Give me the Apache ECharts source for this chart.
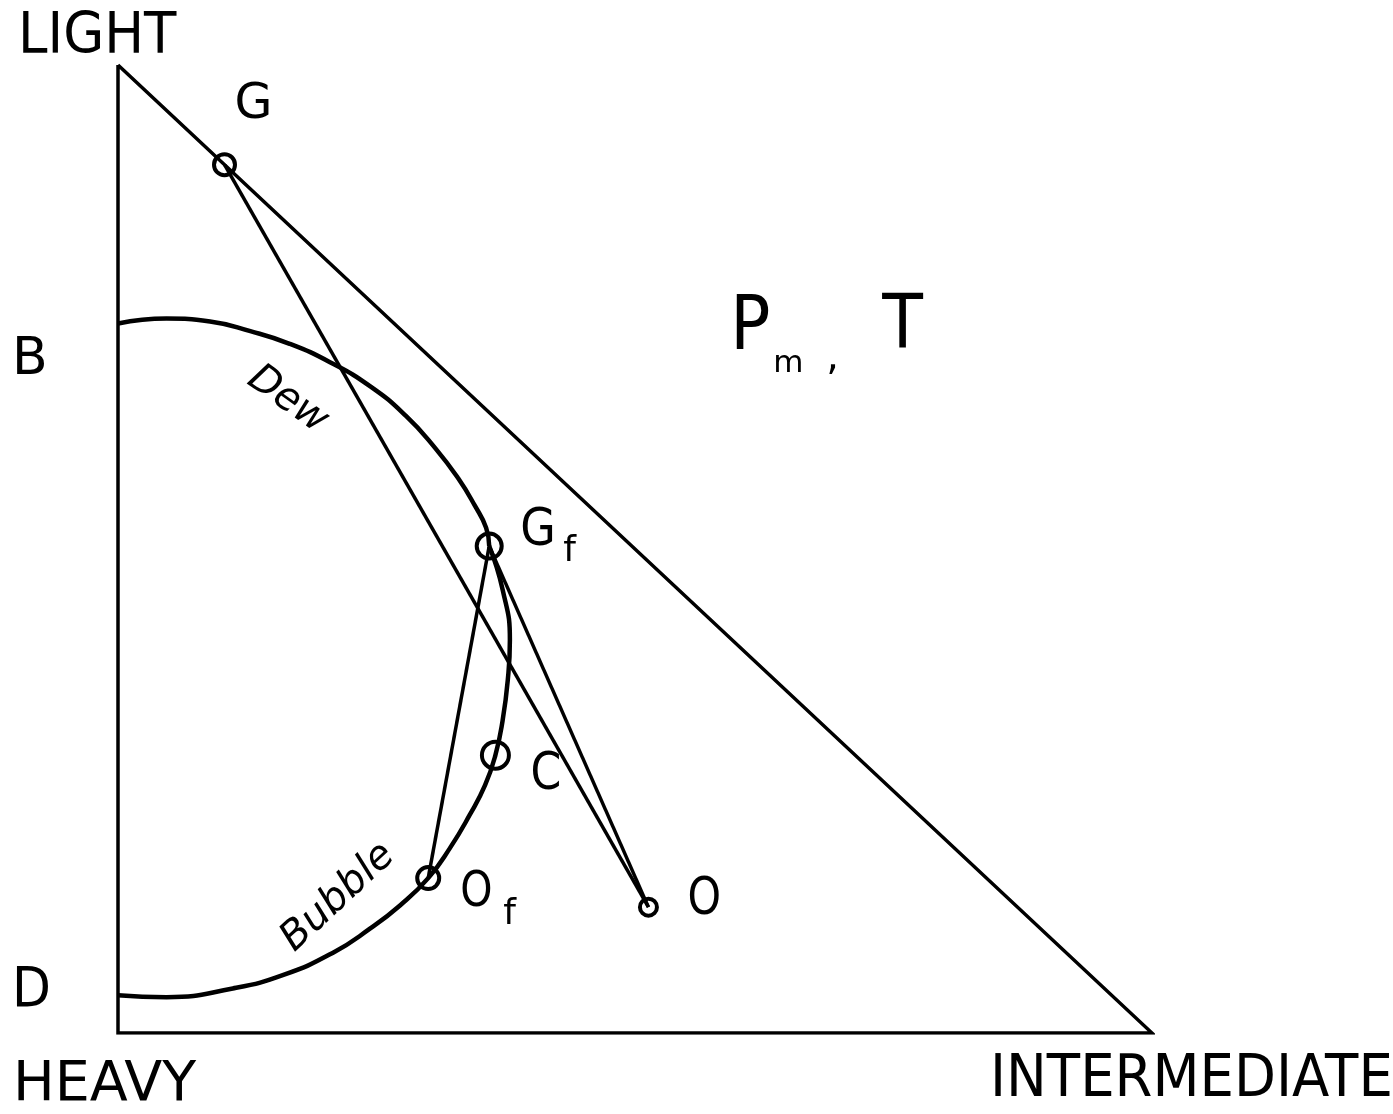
<!DOCTYPE html>
<html>
<head>
<meta charset="utf-8">
<script src="https://cdn.jsdelivr.net/npm/echarts@6/dist/echarts.min.js"></script>
<style>
  html, body { margin: 0; padding: 0; background: #fff; }
  #chart { width: 1393px; height: 1114px; }
</style>
</head>
<body>
<div id="chart"></div>
<script>
// Composition plane: x = intermediate fraction, y = light fraction (heavy at origin)
const triangleVertices = [[0, 1], [0, 0], [1, 0], [0, 1]];

// Dew-point branch of the phase envelope, from the heavy-light edge down to Gf
const dewX = [0.000, 0.047, 0.089, 0.128, 0.166, 0.205, 0.244, 0.278, 0.307, 0.329, 0.345, 0.356, 0.359];
const dewY = [0.733, 0.738, 0.735, 0.725, 0.712, 0.693, 0.668, 0.638, 0.604, 0.573, 0.545, 0.522, 0.503];

// Bubble-point branch, from Gf through C and Of back to the heavy-light edge
const bubbleX = [0.359, 0.372, 0.379, 0.377, 0.372, 0.365, 0.355, 0.340, 0.321, 0.300, 0.273, 0.244, 0.208, 0.160, 0.111, 0.047, 0.000];
const bubbleY = [0.503, 0.458, 0.406, 0.365, 0.323, 0.287, 0.256, 0.225, 0.191, 0.160, 0.132, 0.108, 0.083, 0.060, 0.046, 0.037, 0.039];

// Marked compositions
const pointNames = ['G', 'Gf', 'C', 'Of', 'O'];
const pointX = [0.103, 0.359, 0.365, 0.300, 0.513];
const pointY = [0.897, 0.503, 0.287, 0.160, 0.130];

// Straight connections between marked compositions
const tieLines = [['G', 'O'], ['Gf', 'Of'], ['Gf', 'O']];

const INK = '#000';
const FONT = '"DejaVu Sans", "Liberation Sans", sans-serif';

const pt = name => {
  const i = pointNames.indexOf(name);
  return [pointX[i], pointY[i]];
};
const zip = (xs, ys) => xs.map((x, i) => [x, ys[i]]);

const chart = echarts.init(document.getElementById('chart'), null, { renderer: 'canvas' });

const series = [
  {
    type: 'line', data: triangleVertices, symbol: 'none', silent: true,
    lineStyle: { color: INK, width: 3.5, join: 'miter' }, z: 2
  },
  {
    type: 'line', data: zip(dewX, dewY), symbol: 'none', smooth: 0.5, silent: true,
    lineStyle: { color: INK, width: 4.5 }, z: 2
  },
  {
    type: 'line', data: zip(bubbleX, bubbleY), symbol: 'none', smooth: 0.5, silent: true,
    lineStyle: { color: INK, width: 4.5 }, z: 2
  }
];
tieLines.forEach(([a, b]) => {
  series.push({
    type: 'line', data: [pt(a), pt(b)], symbol: 'none', silent: true,
    lineStyle: { color: INK, width: 3.5 }, z: 2
  });
});
const circleSizes = { G: 21, Gf: 25, C: 27, Of: 22, O: 17 };
series.push({
  type: 'scatter',
  data: pointNames.map(n => ({ name: n, value: pt(n), symbolSize: circleSizes[n] })),
  symbol: 'circle',
  itemStyle: { color: 'rgba(255,255,255,0)', borderColor: INK, borderWidth: 4, opacity: 1 },
  silent: true, z: 3
});

chart.setOption({
  animation: false,
  backgroundColor: '#fff',
  grid: { left: 118, top: 65, width: 1034, height: 968 },
  xAxis: { type: 'value', min: 0, max: 1, show: false },
  yAxis: { type: 'value', min: 0, max: 1, show: false },
  series
});

// Text annotations, anchored to the compositions they describe
const toPx = v => chart.convertToPixel({ gridIndex: 0 }, v);
function label(text, anchor, dx, dy, size, opts = {}) {
  const p = toPx(anchor);
  return {
    type: 'text',
    x: p[0] + dx, y: p[1] + dy + size * 0.07,
    rotation: opts.rotation || 0,
    scaleX: opts.scaleX || 1,
    style: {
      text, fill: INK,
      font: (opts.italic ? 'italic ' : '') + size + 'px ' + FONT,
      align: opts.align || 'left', verticalAlign: 'middle'
    },
    z: 10
  };
}
const topV = [0, 1], heavyV = [0, 0], interV = [1, 0];
const stateAnchor = [0.592, 0.7366];
const graphic = [
  label('LIGHT', topV, -100, -31, 57, { scaleX: 0.93 }),
  label('HEAVY', heavyV, -105, 49, 55, { scaleX: 1.01 }),
  label('INTERMEDIATE', interV, -162, 44, 58, { scaleX: 0.94 }),
  label('B', [0, dewY[0]], -106, 33, 52),
  label('D', [0, bubbleY[bubbleY.length - 1]], -106, -7, 55, { scaleX: 0.92 }),
  label('G', pt('G'), 10, -63, 49),
  label('G', pt('Gf'), 31, -18, 51, { scaleX: 0.9 }),
  label('f', pt('Gf'), 74, 3, 36),
  label('C', pt('C'), 35, 17, 52, { scaleX: 0.85 }),
  label('O', pt('Of'), 32, 11, 50, { scaleX: 0.82 }),
  label('f', pt('Of'), 75, 34, 36),
  label('O', pt('O'), 39, -10, 52, { scaleX: 0.82 }),
  label('P', stateAnchor, 0, 5, 74, { scaleX: 0.9 }),
  label('m', stateAnchor, 43, 42, 31),
  label(',', stateAnchor, 96, 36, 40),
  label('T', stateAnchor, 152, 3, 74, { scaleX: 0.9 }),
  label('Dew', [0.164, 0.657], 0, 0, 40, { italic: true, rotation: -0.62, align: 'center' }),
  label('Bubble', [0.213, 0.143], 0, 0, 40, { italic: true, rotation: 0.75, align: 'center' })
];
chart.setOption({ graphic });
</script>
</body>
</html>
